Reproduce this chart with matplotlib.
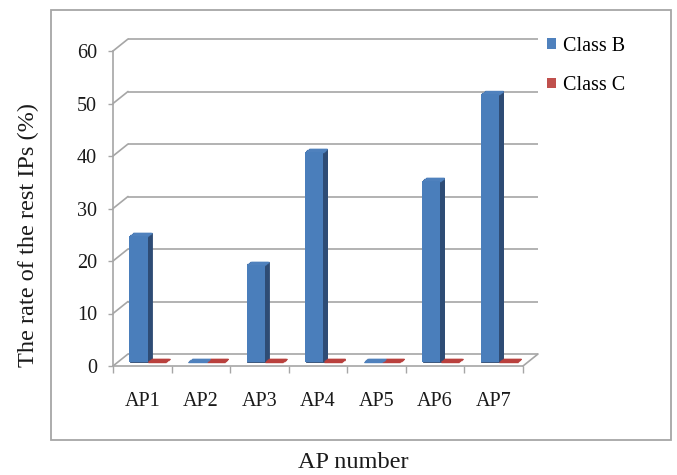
import matplotlib
matplotlib.use('Agg')
import matplotlib.pyplot as plt
from matplotlib.transforms import ScaledTranslation
from matplotlib.patches import Patch, Rectangle, ConnectionPatch
import numpy as np

# ---- data ----
categories = ['AP1', 'AP2', 'AP3', 'AP4', 'AP5', 'AP6', 'AP7']
class_b = [24, 0, 18.5, 40, 0, 34.5, 51]
class_c = [0, 0, 0, 0, 0, 0, 0]
series_names = ['Class B', 'Class C']
yticks = [0, 10, 20, 30, 40, 50, 60]

W, H = 677, 475
DPI = 100
plt.rcParams['font.family'] = ['Liberation Serif', 'DejaVu Serif']
fig = plt.figure(figsize=(W / DPI, H / DPI), dpi=DPI)
fig.patch.set_facecolor('white')

ax = fig.add_axes([113 / W, 1 - 366 / H, 410 / W, 315 / H])
ax.set_xlim(-0.5, 6.5)
ax.set_ylim(0, 60)
ax.set_facecolor('none')

grid = '#A6A6A6'
FS = 14.5
TFS = 17.5


def shift(px, py):
    return ax.transData + ScaledTranslation(px / DPI, py / DPI, fig.dpi_scale_trans)


# back wall gridlines + connectors
back = shift(15, 12)
for v in yticks:
    ax.plot([-0.5, 6.5], [v, v], transform=back, color=grid, lw=1.2,
            clip_on=False, zorder=1, solid_capstyle='butt')
    cp = ConnectionPatch(xyA=(-0.5, v), coordsA=ax.transData,
                         xyB=(-0.5, v), coordsB=back, color=grid, lw=1.2,
                         zorder=1)
    cp.set_clip_on(False)
    ax.add_artist(cp)
cp = ConnectionPatch(xyA=(6.5, 0), coordsA=ax.transData,
                     xyB=(6.5, 0), coordsB=back, color=grid, lw=1.2, zorder=1)
cp.set_clip_on(False)
ax.add_artist(cp)

# bars (pseudo-3D)
x = np.arange(len(categories))
bw = 0.31
BX, BY = 5, 4      # bar plane offset
DX, DY = 4, 3      # bar depth

specs = [
    (x + 0.16, class_c, '#C0504D', '#8B2E2C', '#B9403D'),
    (x - 0.15, class_b, '#4A7EBB', '#2E4C75', '#4F81BD'),
]
for xs, vals, face, side, top in specs:
    ts = np.linspace(1.0, 0.1, 9)
    for t in ts:
        ax.bar(xs, vals, bw, transform=shift(BX + DX * t, BY + DY * t),
               color=side, edgecolor=side, linewidth=0.6, zorder=3,
               clip_on=False)
    for t in ts:
        ax.hlines(vals, xs - bw / 2, xs + bw / 2,
                  transform=shift(BX + DX * t, BY + DY * t),
                  color=top, lw=1.0, zorder=4, clip_on=False)
    ax.bar(xs, vals, bw, transform=shift(BX, BY), color=face,
           linewidth=0, zorder=5, clip_on=False)

# axes styling
for s in ['top', 'right']:
    ax.spines[s].set_visible(False)
for s in ['left', 'bottom']:
    ax.spines[s].set_color(grid)
    ax.spines[s].set_linewidth(1.2)
    ax.spines[s].set_zorder(2)

ax.set_yticks(yticks)
ax.set_yticklabels([str(v) for v in yticks], fontsize=FS, color='#1a1a1a')
ax.tick_params(axis='y', length=3.6, width=1.0, color=grid, pad=8)

ax.set_xticks(x)
ax.set_xticklabels(categories, fontsize=FS, color='#1a1a1a')
ax.set_xticks(np.arange(-0.5, 7, 1), minor=True)
ax.tick_params(axis='x', which='major', length=0, pad=19)
ax.tick_params(axis='x', which='minor', length=5, width=1.0, color=grid)

# legend
handles = [Patch(facecolor='#4F81BD', edgecolor='none'),
           Patch(facecolor='#C0504D', edgecolor='none')]
ax.legend(handles, series_names, loc='upper left',
          bbox_to_anchor=(547 / W, 1 - 37 / H), bbox_transform=fig.transFigure,
          frameon=False, fontsize=FS, handlelength=0.45, handleheight=0.45,
          handletextpad=0.35, labelspacing=1.0, borderpad=0, borderaxespad=0)

# outer border
fig.add_artist(Rectangle((51 / W, 1 - 440 / H), 620 / W, 430 / H,
                         transform=fig.transFigure, fill=False,
                         edgecolor=grid, lw=1.3))

fig.text(28 / W, 1 - 235 / H, 'The rate of the rest IPs (%)', rotation=90,
         ha='center', va='center', fontsize=TFS, color='#1a1a1a')
fig.text(353 / W, 1 - 463 / H, 'AP number', ha='center', va='center',
         fontsize=TFS, color='#1a1a1a')

fig.savefig('out.png', dpi=DPI)
